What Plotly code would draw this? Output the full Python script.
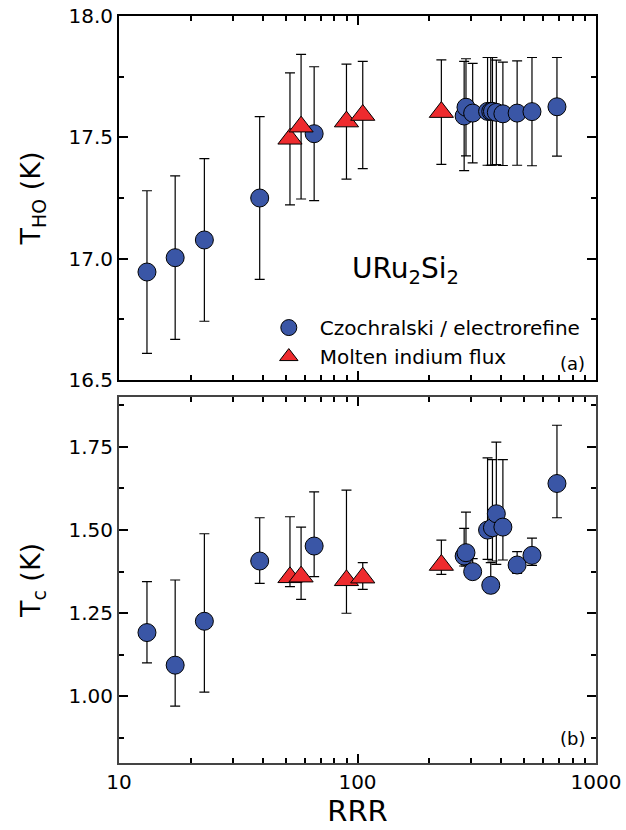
import plotly.graph_objects as go

# ---------------- data ----------------
rrr_cz = [13.1, 17.2, 22.8, 38.9, 65.8, 280, 285, 304, 351, 362, 368, 382, 407, 467, 539, 686]
tho_cz = [16.945, 17.004, 17.077, 17.250, 17.515, 17.588, 17.624, 17.600, 17.607, 17.607,
          17.607, 17.603, 17.597, 17.600, 17.606, 17.626]
tho_cz_err = [0.335, 0.337, 0.335, 0.335, 0.276, 0.225, 0.200, 0.205, 0.222, 0.222,
              0.222, 0.215, 0.213, 0.215, 0.223, 0.203]
tc_cz = [1.192, 1.094, 1.226, 1.407, 1.452, 1.422, 1.432, 1.375, 1.500, 1.334,
         1.507, 1.549, 1.509, 1.395, 1.424, 1.640]
tc_cz_plus = [0.153, 0.256, 0.263, 0.130, 0.163, 0.083, 0.122, 0.039, 0.217, 0.068,
              0.205, 0.215, 0.203, 0.040, 0.052, 0.175]
tc_cz_minus = [0.091, 0.123, 0.213, 0.067, 0.092, 0.030, 0.040, 0.013, 0.088, 0.022,
               0.100, 0.152, 0.099, 0.025, 0.030, 0.103]

rrr_in = [52.1, 58.0, 89.9, 105.2, 224.7]
tho_in = [17.494, 17.544, 17.565, 17.592, 17.604]
tho_in_err = [0.272, 0.298, 0.237, 0.221, 0.215]
tc_in = [1.358, 1.360, 1.349, 1.357, 1.395]
tc_in_plus = [0.182, 0.149, 0.271, 0.045, 0.075]
tc_in_minus = [0.028, 0.068, 0.099, 0.035, 0.028]

BLUE = "#3A56A6"
RED = "#EE2B2E"
FONT = "DejaVu Sans"

err_style = dict(color="black", thickness=1.2, width=5)

fig = go.Figure()

# top panel
fig.add_trace(go.Scatter(
    x=rrr_cz, y=tho_cz, mode="markers", name="Czochralski / electrorefine",
    marker=dict(symbol="circle", size=18, color=BLUE, line=dict(color="black", width=1)),
    error_y=dict(type="data", array=tho_cz_err, **err_style),
    xaxis="x", yaxis="y", legendrank=1))
fig.add_trace(go.Scatter(
    x=rrr_in, y=tho_in, mode="markers", name="Molten indium flux",
    marker=dict(symbol="triangle-up", size=21, color=RED, line=dict(color="black", width=1)),
    error_y=dict(type="data", array=tho_in_err, **err_style),
    xaxis="x", yaxis="y", legendrank=2))

# bottom panel
fig.add_trace(go.Scatter(
    x=rrr_cz, y=tc_cz, mode="markers", showlegend=False,
    marker=dict(symbol="circle", size=18, color=BLUE, line=dict(color="black", width=1)),
    error_y=dict(type="data", symmetric=False, array=tc_cz_plus, arrayminus=tc_cz_minus, **err_style),
    xaxis="x2", yaxis="y2"))
fig.add_trace(go.Scatter(
    x=rrr_in, y=tc_in, mode="markers", showlegend=False,
    marker=dict(symbol="triangle-up", size=21, color=RED, line=dict(color="black", width=1)),
    error_y=dict(type="data", symmetric=False, array=tc_in_plus, arrayminus=tc_in_minus, **err_style),
    xaxis="x2", yaxis="y2"))

# top panel axes: no per-axis tickfont (font comes from layout)
top_axis = dict(
    showline=True, linecolor="black", linewidth=2, mirror="ticks",
    ticks="inside", ticklen=9, tickwidth=2, tickcolor="black", showgrid=False,
)
# bottom panel axes: default line colour
bot_axis = dict(
    showline=True, linewidth=2, mirror="ticks",
    ticks="inside", ticklen=9, tickwidth=2, tickcolor="black", showgrid=False,
    tickfont=dict(family=FONT, size=20, color="black"),
)
minor_ticks = dict(ticks="inside", ticklen=5, tickcolor="black")

fig.update_layout(
    width=626, height=830,
    margin=dict(l=119, r=30, t=16, b=67),
    template="none",
    font=dict(family=FONT, size=20, color="black"),
    xaxis=dict(top_axis, type="log", range=[1, 3], dtick=1, minor=dict(minor_ticks),
               domain=[0, 1], anchor="y", showticklabels=False),
    xaxis2=dict(bot_axis, type="log", range=[1, 3], dtick=1, minor=dict(minor_ticks),
                domain=[0, 1], anchor="y2",
                title=dict(text="RRR", font=dict(family=FONT, size=29), standoff=0)),
    yaxis=dict(top_axis, domain=[0.5127, 1], anchor="x",
               range=[16.4999, 18.0001], tick0=16.5, dtick=0.5, tickformat=".1f",
               minor=dict(minor_ticks, dtick=0.25),
               title=dict(text="T<sub>HO</sub> (K)", font=dict(family=FONT, size=27), standoff=20)),
    yaxis2=dict(bot_axis, domain=[0, 0.49], anchor="x2",
                range=[0.8, 1.9], tick0=1.0, dtick=0.25, tickformat=".2f",
                minor=dict(minor_ticks, dtick=0.125),
                title=dict(text="T<sub>c</sub> (K)", font=dict(family=FONT, size=27), standoff=20)),
    legend=dict(x=0.291, y=0.609, xanchor="left", yanchor="top",
                bgcolor="rgba(0,0,0,0)", borderwidth=0,
                font=dict(family=FONT, size=20, color="black"),
                itemwidth=52, tracegroupgap=0),
    showlegend=True,
)

fig.add_annotation(text="URu<sub>2</sub>Si<sub>2</sub>", xref="x domain", yref="y domain",
                   x=0.484, y=0.30, xanchor="left", yanchor="middle", showarrow=False,
                   font=dict(family=FONT, size=28, color="black"))
fig.add_annotation(text="(a)", xref="x domain", yref="y domain",
                   x=0.981, y=0.044, xanchor="right", yanchor="middle", showarrow=False,
                   font=dict(family=FONT, size=18, color="black"))
fig.add_annotation(text="(b)", xref="x2 domain", yref="y2 domain",
                   x=0.981, y=0.066, xanchor="right", yanchor="middle", showarrow=False,
                   font=dict(family=FONT, size=18, color="black"))

fig.write_html("out.html")
